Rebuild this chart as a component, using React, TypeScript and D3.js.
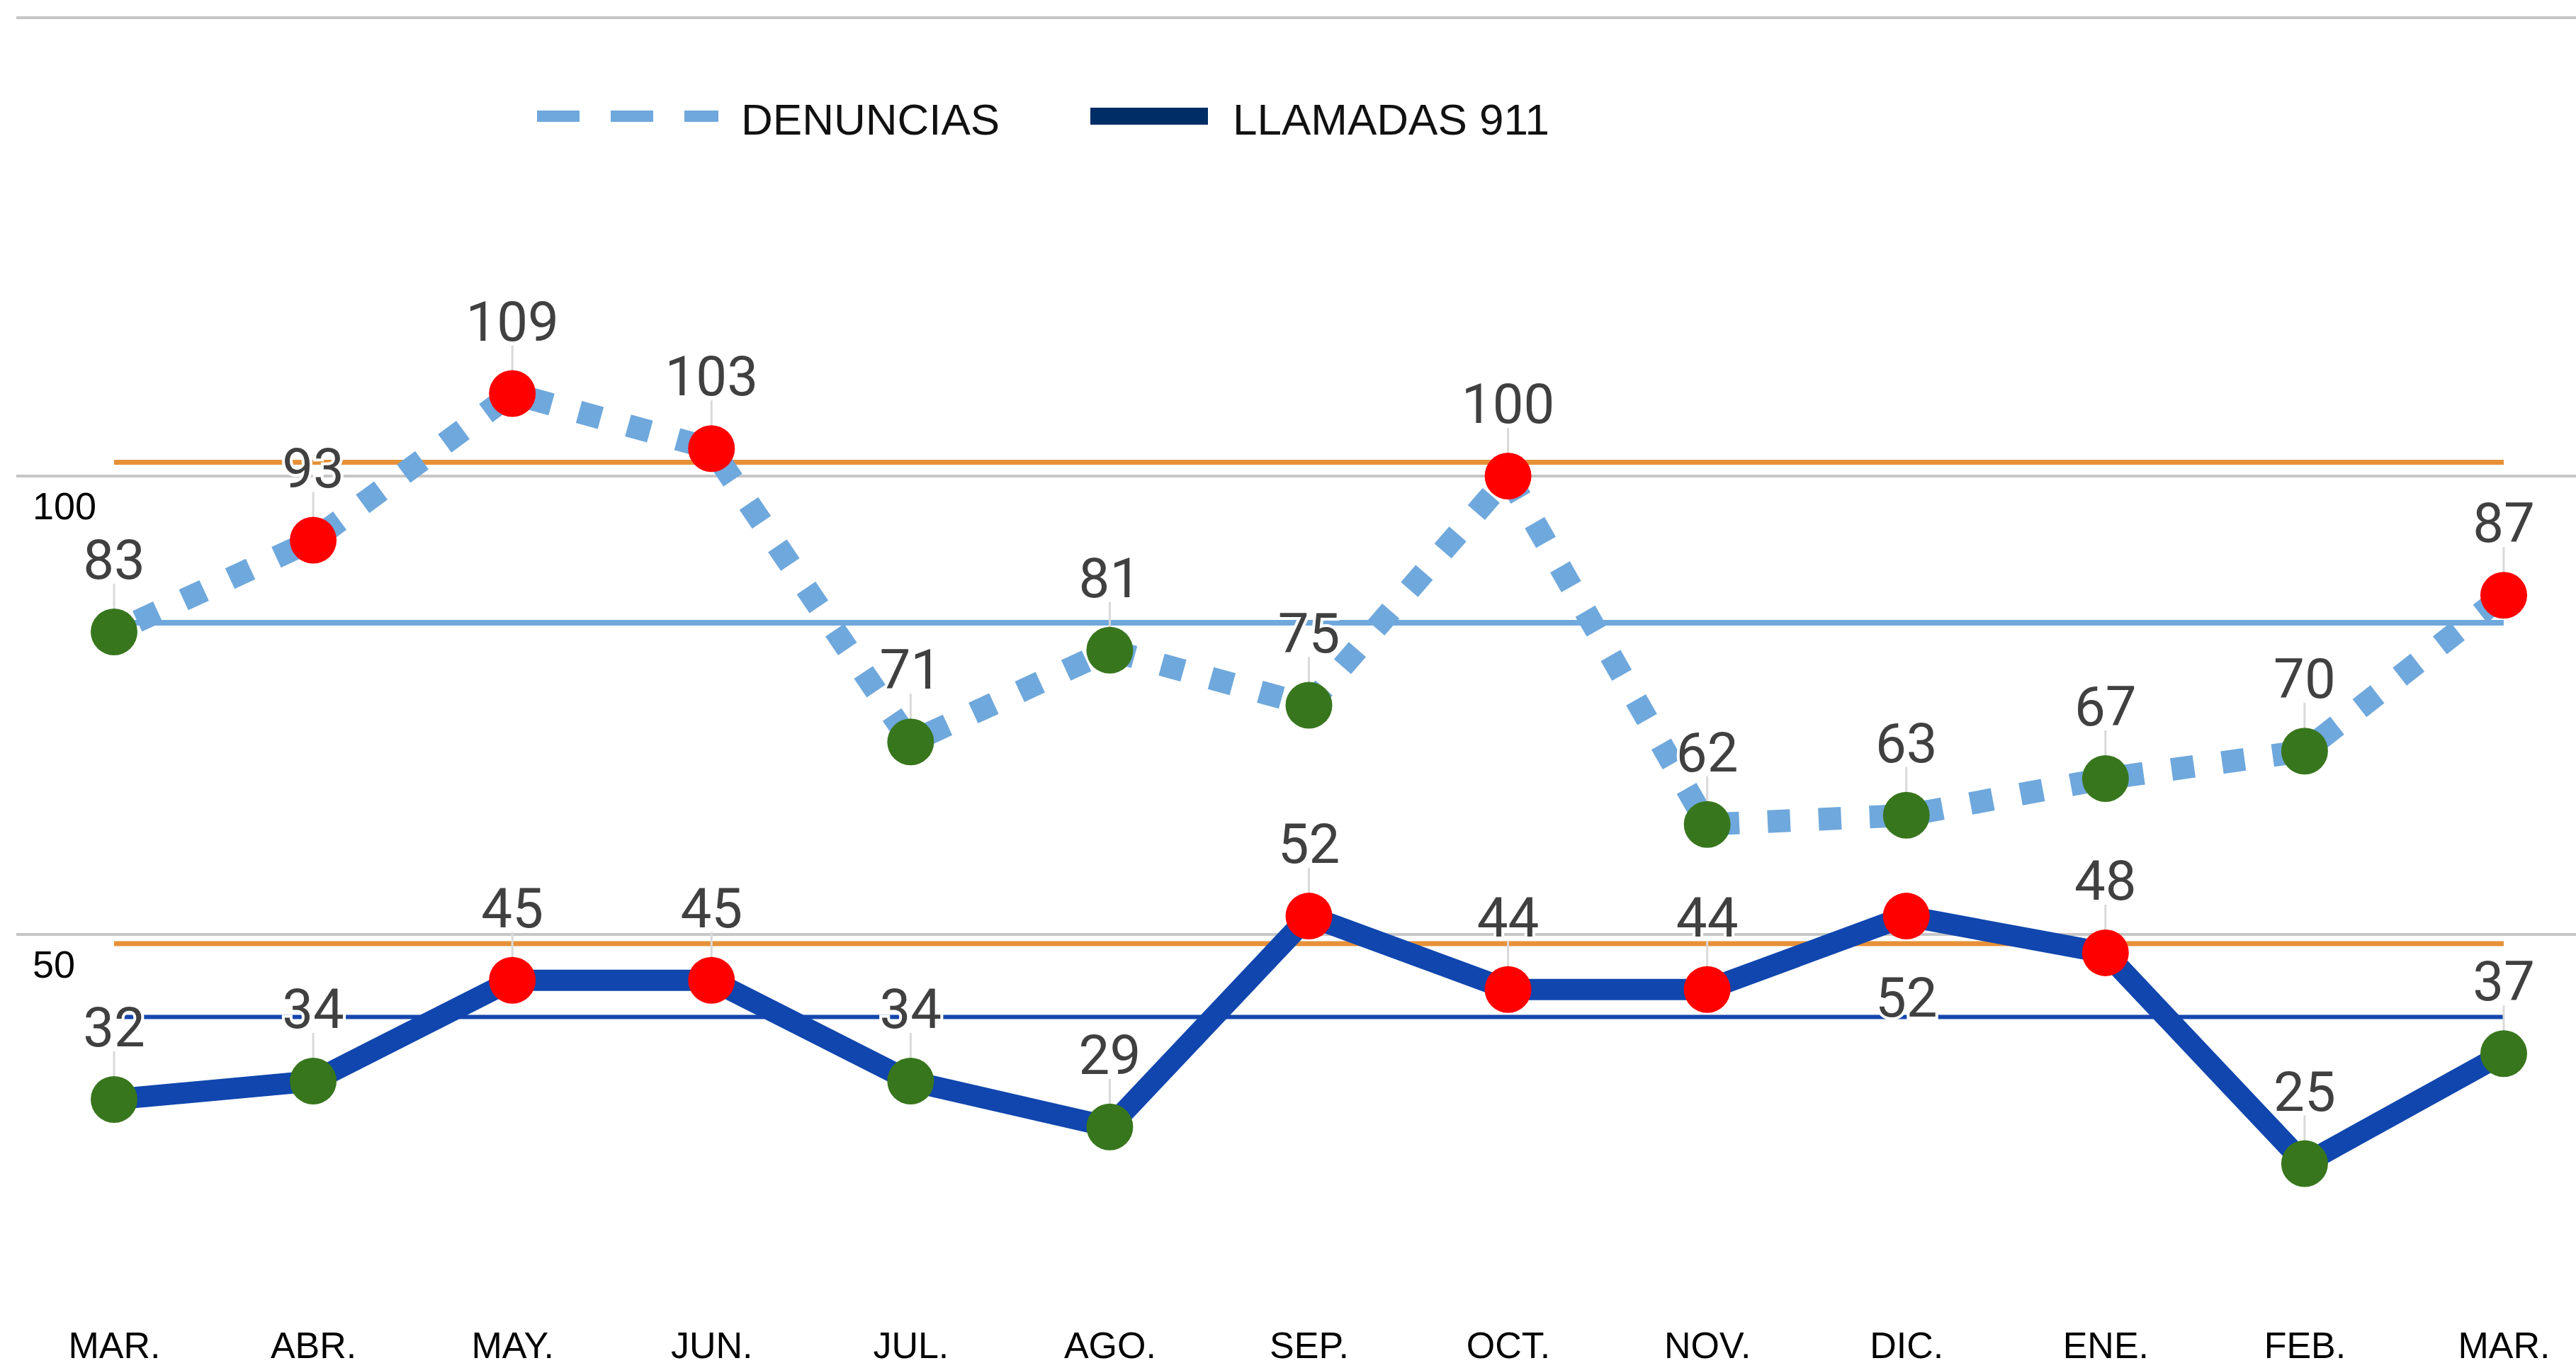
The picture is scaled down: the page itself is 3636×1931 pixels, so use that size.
import React, { useEffect, useRef } from 'react'
import * as d3 from 'd3'

// chart values
const months = ['MAR.', 'ABR.', 'MAY.', 'JUN.', 'JUL.', 'AGO.', 'SEP.', 'OCT.', 'NOV.', 'DIC.', 'ENE.', 'FEB.', 'MAR.']
const denuncias = [83, 93, 109, 103, 71, 81, 75, 100, 62, 63, 67, 70, 87]
const llamadas = [32, 34, 45, 45, 34, 29, 52, 44, 44, 52, 48, 25, 37]
const yTicks = [50, 100, 150]
const yTickLabels = ['50', '100', '']
const denunciasAvg = 84
const llamadasAvg = 41
const upperLimit = 101.5
const lowerLimit = 49
// which labels go under the marker (series, index)
const labelsBelow = [['llamadas', 9]]

const W = 3636
const H = 1931

export default function App() {
  const ref = useRef<SVGSVGElement>(null)

  useEffect(() => {
    const svg = d3.select(ref.current)
    svg.selectAll('*').remove()

    const idx = months.map((_, i) => String(i))
    const x = d3.scalePoint().domain(idx).range([161, 3534])
    const y = d3.scaleLinear().domain([0, 150]).range([1966, 25])
    const xi = (i: number) => x(String(i)) as number

    // gridlines
    svg.append('g').selectAll('line').data(yTicks).join('line')
      .attr('x1', 23).attr('x2', W)
      .attr('y1', d => y(d)).attr('y2', d => y(d))
      .attr('stroke', '#c6c6c6').attr('stroke-width', 4)

    // y labels under gridlines
    svg.append('g').selectAll('text').data(yTicks).join('text')
      .attr('x', 46).attr('y', d => y(d) + 61)
      .style('font-family', '"Liberation Sans", Arial, sans-serif')
      .style('font-size', '54px').attr('fill', '#000')
      .attr('stroke', '#fff').attr('stroke-width', 8).attr('paint-order', 'stroke')
      .text((d, i) => yTickLabels[i])

    // limit + average lines
    const refLines = [
      { v: upperLimit, c: '#E69138', w: 7 },
      { v: lowerLimit, c: '#E69138', w: 7 },
      { v: denunciasAvg, c: '#6FA8DC', w: 8 },
      { v: llamadasAvg, c: '#1546AE', w: 6 },
    ]
    svg.append('g').selectAll('line').data(refLines).join('line')
      .attr('x1', xi(0)).attr('x2', xi(months.length - 1))
      .attr('y1', d => y(d.v)).attr('y2', d => y(d.v))
      .attr('stroke', d => d.c).attr('stroke-width', d => d.w)

    const line = d3.line<number>().x((d, i) => xi(i)).y(d => y(d))

    svg.append('path').datum(denuncias)
      .attr('d', line).attr('fill', 'none')
      .attr('stroke', '#6FA8DC').attr('stroke-width', 32)
      .attr('stroke-dasharray', '32 40').attr('stroke-dashoffset', -36)

    svg.append('path').datum(llamadas)
      .attr('d', line).attr('fill', 'none')
      .attr('stroke', '#1046AE').attr('stroke-width', 30)
      .attr('stroke-linejoin', 'round')

    const series = [
      { key: 'denuncias', data: denuncias, avg: denunciasAvg },
      { key: 'llamadas', data: llamadas, avg: llamadasAvg },
    ]

    series.forEach(s => {
      const pts = s.data.map((v, i) => ({
        v, i,
        below: labelsBelow.some(b => b[0] === s.key && b[1] === i),
      }))
      const g = svg.append('g')

      // leader lines
      g.selectAll('line').data(pts.filter(p => !p.below)).join('line')
        .attr('x1', p => xi(p.i)).attr('x2', p => xi(p.i))
        .attr('y1', p => y(p.v) - 68).attr('y2', p => y(p.v) - 30)
        .attr('stroke', '#d9d9d9').attr('stroke-width', 3)

      g.selectAll('circle').data(pts).join('circle')
        .attr('cx', p => xi(p.i)).attr('cy', p => y(p.v)).attr('r', 33)
        .attr('fill', p => (p.v > s.avg ? '#FF0000' : '#38761D'))

      g.selectAll('text').data(pts).join('text')
        .attr('x', p => xi(p.i))
        .attr('y', p => (p.below ? y(p.v) + 142 : y(p.v) - 75))
        .attr('text-anchor', 'middle')
        .style('font-family', 'Roboto, sans-serif')
        .style('font-size', '78px')
        .attr('fill', '#404040')
        .attr('stroke', '#fff').attr('stroke-width', 8).attr('paint-order', 'stroke')
        .text(p => p.v)
    })

    // month axis
    const axis = svg.append('g')
      .attr('transform', 'translate(0, 1917)')
      .call(d3.axisBottom(x).tickSize(0).tickPadding(0).tickFormat(d => months[+d]))
    axis.select('.domain').remove()
    axis.selectAll('text')
      .attr('dy', 0)
      .style('font-family', '"Liberation Sans", Arial, sans-serif')
      .style('font-size', '52px')
      .attr('fill', '#000')

    // legend
    const lg = svg.append('g')
    lg.append('line')
      .attr('x1', 758).attr('x2', 1014).attr('y1', 164).attr('y2', 164)
      .attr('stroke', '#6FA8DC').attr('stroke-width', 16)
      .attr('stroke-dasharray', '60 44')
    lg.append('text').attr('x', 1046).attr('y', 190)
      .style('font-family', '"Liberation Sans", Arial, sans-serif')
      .style('font-size', '62px').attr('fill', '#111')
      .text('DENUNCIAS')
    lg.append('line')
      .attr('x1', 1539).attr('x2', 1705).attr('y1', 164).attr('y2', 164)
      .attr('stroke', '#002D66').attr('stroke-width', 24)
    lg.append('text').attr('x', 1740).attr('y', 190)
      .style('font-family', '"Liberation Sans", Arial, sans-serif')
      .style('font-size', '62px').attr('fill', '#111')
      .text('LLAMADAS 911')
  }, [])

  return (
    <svg ref={ref} width={W} height={H}
      style={{ position: 'absolute', left: 0, top: 0, background: '#fff' }} />
  )
}
